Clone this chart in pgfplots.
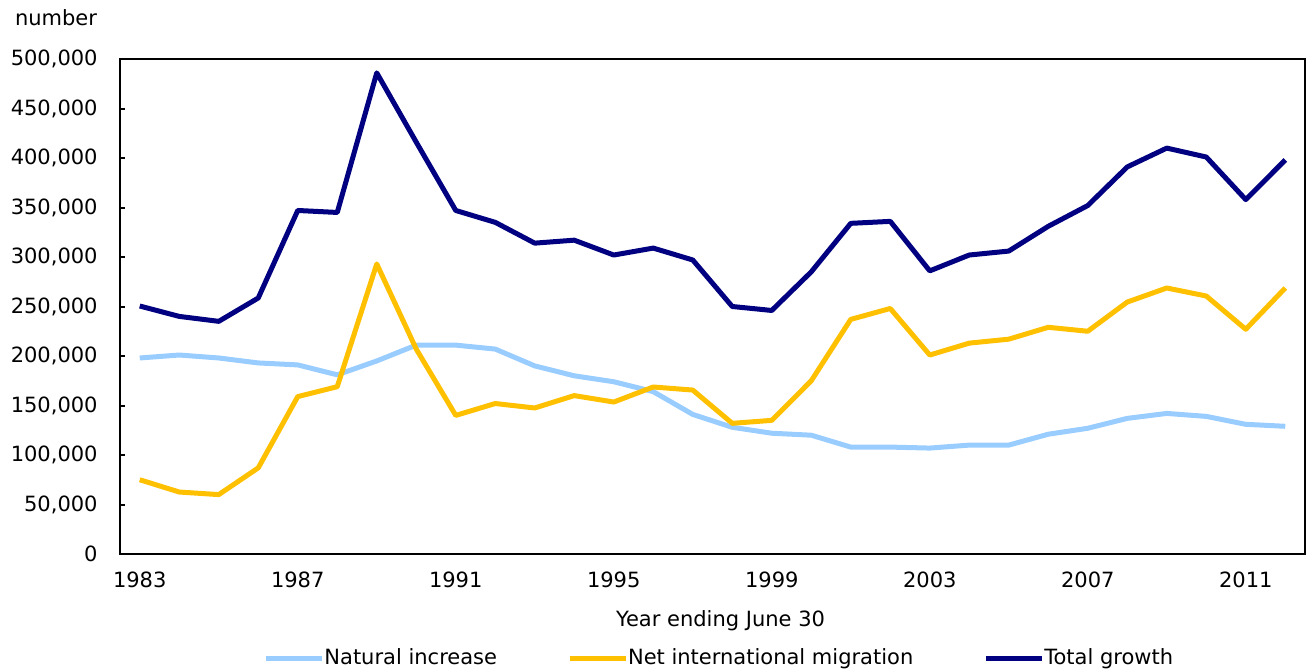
\documentclass[border=0pt]{standalone}
\usepackage{fontspec}
\setmainfont{DejaVu Sans}
\usepackage{pgfplots}
\pgfplotsset{compat=1.18}
\definecolor{nat}{HTML}{99CCFF}
\definecolor{mig}{HTML}{FFC000}
\definecolor{tot}{HTML}{000080}
\begin{document}
\fontsize{10.5pt}{12.6pt}\selectfont
\begin{tikzpicture}
\begin{axis}[
  at={(60pt,58pt)}, anchor=south west,
  scale only axis, width=592.5pt, height=247.5pt,
  xmin=1982.5, xmax=2012.5, ymin=0, ymax=500000,
  xtick={1983,1987,...,2011},
  ytick={0,50000,...,500000},
  /pgf/number format/assume math mode=true,
  xticklabel style={font=\fontsize{10.5pt}{12.6pt}\selectfont, yshift=-5.5pt, /pgf/number format/.cd, fixed, precision=0, 1000 sep={}},
  yticklabel style={font=\fontsize{10.5pt}{12.6pt}\selectfont, xshift=-7.5pt, /pgf/number format/.cd, fixed, precision=0, 1000 sep={,}},
  scaled y ticks=false, scaled x ticks=false,
  tick align=inside, ytick pos=left, xtick pos=bottom,
  major tick length=2.5pt,
  x tick style={draw=none},
  y tick style={black, line width=1pt},
  axis line style={black, line width=1pt},
  xlabel={Year ending June 30},
  x label style={at={(axis description cs:0.5,0)}, anchor=center, yshift=-33.5pt, xshift=4pt, font=\fontsize{10.5pt}{12.6pt}\selectfont},
  legend columns=3,
  legend style={draw=none, fill=none, inner sep=0pt, at={(axis description cs:0.1207,-0.2101)}, anchor=west,
    font=\fontsize{10.5pt}{12.6pt}\selectfont,
    nodes={inner xsep=0pt},
    /tikz/every odd column/.append style={column sep=0pt},
    /tikz/every even column/.append style={column sep=35pt}},
  legend image code/.code={\draw[#1] (0pt,0pt) -- (28pt,0pt);},
  every axis plot/.append style={line width=2.5pt, line join=round, mark=none},
]
\addplot[nat] coordinates {
(1983,198000)(1984,201000)(1985,198000)(1986,193000)(1987,191000)(1988,181000)
(1989,195000)(1990,211000)(1991,211000)(1992,207000)(1993,190000)(1994,180000)
(1995,174000)(1996,164000)(1997,141000)(1998,128000)(1999,122000)(2000,120000)
(2001,108000)(2002,108000)(2003,107000)(2004,110000)(2005,110000)(2006,121000)
(2007,127000)(2008,137000)(2009,142000)(2010,139000)(2011,131000)(2012,129000)};
\addlegendentry{Natural increase}
\addplot[mig] coordinates {
(1983,75000)(1984,62600)(1985,60000)(1986,87000)(1987,159000)(1988,169000)
(1989,293000)(1990,207000)(1991,140000)(1992,152000)(1993,147500)(1994,160000)
(1995,153500)(1996,168700)(1997,165600)(1998,132000)(1999,135000)(2000,175000)
(2001,237000)(2002,248000)(2003,201000)(2004,213000)(2005,217000)(2006,229000)
(2007,225000)(2008,254500)(2009,268700)(2010,260600)(2011,227000)(2012,268700)};
\addlegendentry{Net international migration\hspace{3pt}}
\addplot[tot] coordinates {
(1983,250500)(1984,240000)(1985,235000)(1986,258600)(1987,347000)(1988,345000)
(1989,486000)(1990,416000)(1991,347000)(1992,335000)(1993,314000)(1994,317000)
(1995,302000)(1996,309000)(1997,297000)(1998,250000)(1999,246000)(2000,285000)
(2001,334000)(2002,336000)(2003,286000)(2004,302000)(2005,306000)(2006,331000)
(2007,352000)(2008,391000)(2009,410000)(2010,401000)(2011,358000)(2012,398000)};
\addlegendentry{Total growth}
\end{axis}
\node at (28pt,326pt) {number};
\pgfresetboundingbox
\useasboundingbox (0,0) rectangle (654.5pt,335pt);
\end{tikzpicture}
\end{document}
